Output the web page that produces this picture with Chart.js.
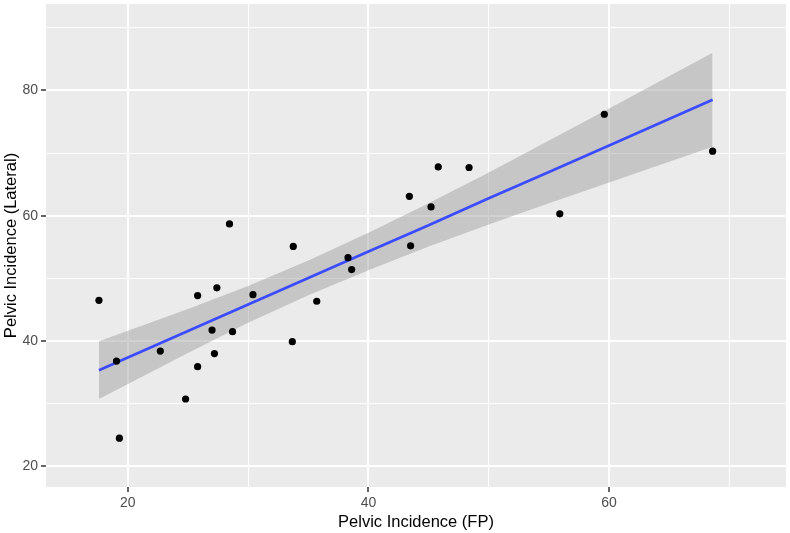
<!DOCTYPE html>
<html>
<head>
<meta charset="utf-8">
<title>Pelvic Incidence</title>
<script src="https://cdn.jsdelivr.net/npm/chart.js@4"></script>
<style>
  html, body { margin: 0; padding: 0; background: #fff; }
  canvas { display: block; }
</style>
</head>
<body>
<canvas id="pelvicChart" width="790" height="533"></canvas>
<script>
// observed points
var fpValues = [17.6, 19.06, 19.3, 22.7, 24.8, 25.8, 25.8, 27.0, 27.2, 27.4, 28.7, 28.45, 30.4,
    33.75, 33.67, 35.7, 38.3, 38.6, 43.4, 43.5, 45.2, 45.8, 48.36, 55.9, 59.6, 68.6];
var lateralValues = [46.5, 36.8, 24.5, 38.4, 30.75, 35.9, 47.25, 41.75, 38.0, 48.5, 41.5, 58.7, 47.4,
    55.1, 39.9, 46.35, 53.3, 51.4, 63.1, 55.2, 61.4, 67.8, 67.7, 60.3, 76.2, 70.3];

// fitted line and confidence band
var fitX = [17.6, 25, 30, 35, 40, 45, 50, 55, 60, 68.6];
var fitY = [35.35, 41.6, 45.84, 50.07, 54.3, 58.5, 62.8, 67.0, 71.2, 78.5];
var bandUpper = [39.95, 45.1, 48.8, 52.85, 57.3, 62.0, 66.9, 72.0, 77.1, 86.0];
var bandLower = [30.75, 38.1, 42.9, 47.3, 51.3, 55.1, 58.6, 62.0, 65.3, 71.0];

var xTicks = [20, 30, 40, 50, 60, 70];
var yTicks = [20, 30, 40, 50, 60, 70, 80, 90];

function toXY(xs, ys) {
    return xs.map((x, i) => ({ x: x, y: ys[i] }));
}

// grey ggplot panel behind everything
const panelBackground = {
    id: "panelBackground",
    beforeDraw(chart) {
        const a = chart.chartArea;
        const ctx = chart.ctx;
        ctx.save();
        ctx.fillStyle = "#EBEBEB";
        ctx.fillRect(a.left, a.top, a.right - a.left, a.bottom - a.top);
        ctx.restore();
    }
};

function isMajor(v) { return v % 20 === 0; }

function gridOptions() {
    return {
        color: "#FFFFFF",
        lineWidth: c => (c.tick && isMajor(c.tick.value)) ? 2 : 1,
        drawTicks: true,
        tickLength: 5,
        tickWidth: 1.5,
        tickColor: c => (c.tick && isMajor(c.tick.value)) ? "#333333" : "rgba(0,0,0,0)"
    };
}

const tickFont = { family: "'Liberation Sans', Arial, sans-serif", size: 14 };
const titleFont = { family: "'Liberation Sans', Arial, sans-serif", size: 16.5 };

new Chart(document.getElementById("pelvicChart").getContext("2d"), {
    type: "line",
    data: {
        datasets: [
            {
                label: "points",
                data: toXY(fpValues, lateralValues),
                showLine: false,
                pointRadius: 3.6,
                pointBackgroundColor: "#000000",
                pointBorderWidth: 0
            },
            {
                label: "fit",
                data: toXY(fitX, fitY),
                borderColor: "#3B4CFF",
                borderWidth: 2.7,
                pointRadius: 0,
                fill: false
            },
            {
                label: "upper",
                data: toXY(fitX, bandUpper),
                borderWidth: 0,
                borderColor: "rgba(0,0,0,0)",
                pointRadius: 0,
                backgroundColor: "rgba(153,153,153,0.45)",
                fill: "+1"
            },
            {
                label: "lower",
                data: toXY(fitX, bandLower),
                borderWidth: 0,
                borderColor: "rgba(0,0,0,0)",
                pointRadius: 0,
                fill: false
            }
        ]
    },
    options: {
        responsive: false,
        animation: false,
        layout: { padding: { top: 0, right: 0, left: 0, bottom: 0 } },
        plugins: {
            legend: { display: false },
            tooltip: { enabled: false }
        },
        scales: {
            x: {
                type: "linear",
                min: 13.2,
                max: 74.7,
                afterBuildTicks: axis => { axis.ticks = xTicks.map(v => ({ value: v })); },
                afterFit: scale => {
                    scale.height = 46;
                    scale.paddingLeft = 0;
                    scale.paddingRight = 0;
                },
                border: { display: false },
                grid: gridOptions(),
                ticks: {
                    padding: 3,
                    color: "#4D4D4D",
                    font: tickFont,
                    maxRotation: 0,
                    autoSkip: false,
                    callback: v => isMajor(v) ? v : ""
                },
                title: {
                    display: true,
                    text: "Pelvic Incidence (FP)",
                    color: "#000000",
                    font: titleFont,
                    padding: { top: 0, bottom: 1 }
                }
            },
            y: {
                type: "linear",
                min: 16.7,
                max: 93.8,
                afterBuildTicks: axis => { axis.ticks = yTicks.map(v => ({ value: v })); },
                afterFit: scale => {
                    scale.width = 46;
                    scale.paddingTop = 0;
                    scale.paddingBottom = 0;
                },
                border: { display: false },
                grid: gridOptions(),
                ticks: {
                    padding: 3,
                    color: "#4D4D4D",
                    font: tickFont,
                    autoSkip: false,
                    callback: v => isMajor(v) ? v : ""
                },
                title: {
                    display: true,
                    text: "Pelvic Incidence (Lateral)",
                    color: "#000000",
                    font: titleFont,
                    padding: { top: 2, bottom: 0 }
                }
            }
        }
    },
    plugins: [panelBackground]
});
</script>
</body>
</html>
